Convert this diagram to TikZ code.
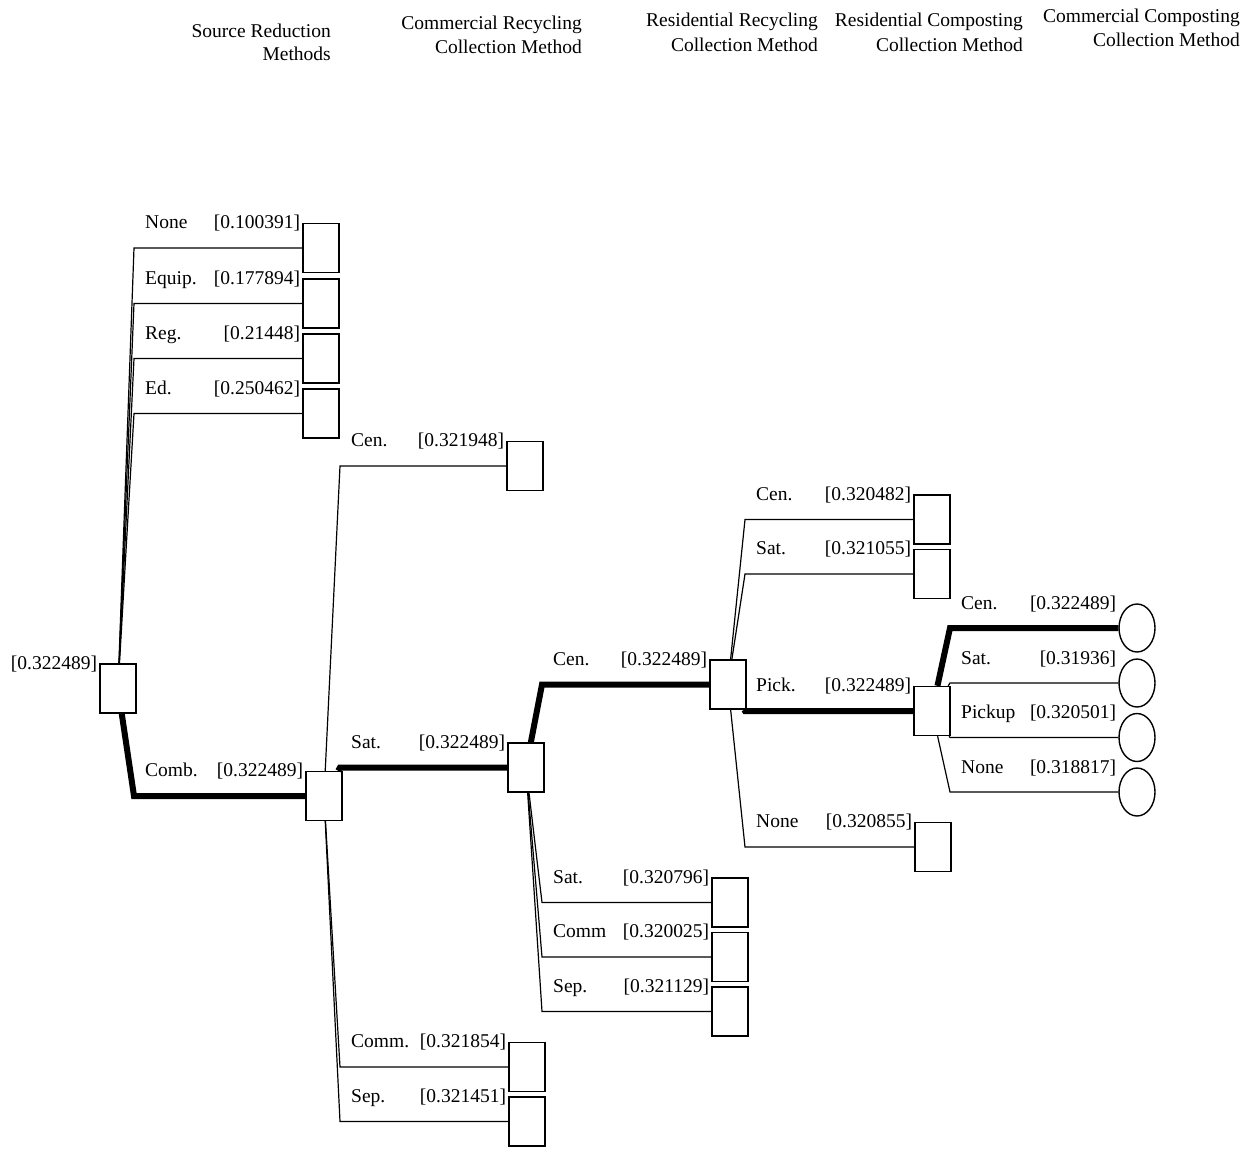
\documentclass[tikz,border=0pt]{standalone}
\usepackage{fontspec}
\setmainfont{Liberation Serif}
\usetikzlibrary{calc,shapes.geometric}
\newcommand\brnch[6][brthin]{%
  \draw[#1] (#2) -- (#3 |- #4) -- (#4);
  \node[lbl,anchor=base west] (#4-lab) at ($(#3 |- #4.north)+(11,6)$) {#5};
  \node[lbl,anchor=base east] (#4-val) at ($(#4.west |- #4.north)+(-2,6)$) {#6};
}
\begin{document}
\begin{tikzpicture}[x=1pt,y=-1pt,
  dbox/.style={draw,line width=1.4pt,fill=white,minimum width=36pt,minimum height=49pt,inner sep=0pt},
  cnode/.style={draw,ellipse,line width=1.4pt,fill=white,minimum width=36pt,minimum height=48pt,inner sep=0pt},
  brthin/.style={line width=1.2pt},
  brthick/.style={line width=6pt},
  lbl/.style={font=\fontsize{19.5}{23}\selectfont,inner sep=0pt},
  ttl/.style={font=\fontsize{19.5}{23}\selectfont,inner sep=0pt,anchor=base east}]
\useasboundingbox (0,0) rectangle (1258,1151);
% titles
\node[ttl] (t1a) at (331,37) {Source Reduction};
\node[ttl] (t1b) at (331,60) {Methods};
\node[ttl] (t2a) at (582,29) {Commercial Recycling};
\node[ttl] (t2b) at (582,53) {Collection Method};
\node[ttl] (t3a) at (818,27) {Residential Recycling};
\node[ttl] (t3b) at (818,51) {Collection Method};
\node[ttl] (t4a) at (1023,27) {Residential Composting};
\node[ttl] (t4b) at (1023,51) {Collection Method};
\node[ttl] (t5a) at (1240,22) {Commercial Composting};
\node[ttl] (t5b) at (1240,46) {Collection Method};
% decision boxes
\node[dbox] (root) at (118,688.5) {};
\node[dbox] (srn) at (321,248) {};
\node[dbox] (sre) at (321,303.5) {};
\node[dbox] (srr) at (321,358.5) {};
\node[dbox] (srd) at (321,413.5) {};
\node[dbox] (comb) at (324,796) {};
\node[dbox] (crc) at (525,466) {};
\node[dbox] (crs) at (526,767.5) {};
\node[dbox] (crm) at (527,1067) {};
\node[dbox] (crp) at (527,1121.5) {};
\node[dbox] (rrc) at (728,684.5) {};
\node[dbox] (rrs) at (730,902.5) {};
\node[dbox] (rrm) at (730,957) {};
\node[dbox] (rrp) at (730,1011.5) {};
\node[dbox] (rcc) at (932,519.5) {};
\node[dbox] (rcs) at (932,574) {};
\node[dbox] (rcp) at (932,711) {};
\node[dbox] (rcn) at (933,847) {};
\node[cnode] (ccc) at (1137,628) {};
\node[cnode] (ccs) at (1137,683) {};
\node[cnode] (ccp) at (1137,737.5) {};
\node[cnode] (ccn) at (1137,792) {};
% bend columns
\coordinate (b0) at (134,0);
\coordinate (b1) at (340,0);
\coordinate (b2) at (542,0);
\coordinate (b3) at (745,0);
\coordinate (b4) at (950,0);
% root value
\node[lbl,anchor=base east] (root-val) at ($(root.north west)+(-2,6)$) {[0.322489]};
% branches
\brnch{root}{b0}{srn}{None}{[0.100391]}
\brnch{root}{b0}{sre}{Equip.}{[0.177894]}
\brnch{root}{b0}{srr}{Reg.}{[0.21448]}
\brnch{root}{b0}{srd}{Ed.}{[0.250462]}
\brnch[brthick]{root}{b0}{comb}{Comb.}{[0.322489]}
\brnch{comb}{b1}{crc}{Cen.}{[0.321948]}
\brnch[brthick]{comb}{b1}{crs}{Sat.}{[0.322489]}
\brnch{comb}{b1}{crm}{Comm.}{[0.321854]}
\brnch{comb}{b1}{crp}{Sep.}{[0.321451]}
\brnch[brthick]{crs}{b2}{rrc}{Cen.}{[0.322489]}
\brnch{crs}{b2}{rrs}{Sat.}{[0.320796]}
\brnch{crs}{b2}{rrm}{Comm}{[0.320025]}
\brnch{crs}{b2}{rrp}{Sep.}{[0.321129]}
\brnch{rrc}{b3}{rcc}{Cen.}{[0.320482]}
\brnch{rrc}{b3}{rcs}{Sat.}{[0.321055]}
\brnch[brthick]{rrc}{b3}{rcp}{Pick.}{[0.322489]}
\brnch{rrc}{b3}{rcn}{None}{[0.320855]}
\brnch[brthick]{rcp}{b4}{ccc}{Cen.}{[0.322489]}
\brnch{rcp}{b4}{ccs}{Sat.}{[0.31936]}
\brnch{rcp}{b4}{ccp}{Pickup}{[0.320501]}
\brnch{rcp}{b4}{ccn}{None}{[0.318817]}
\end{tikzpicture}
\end{document}
